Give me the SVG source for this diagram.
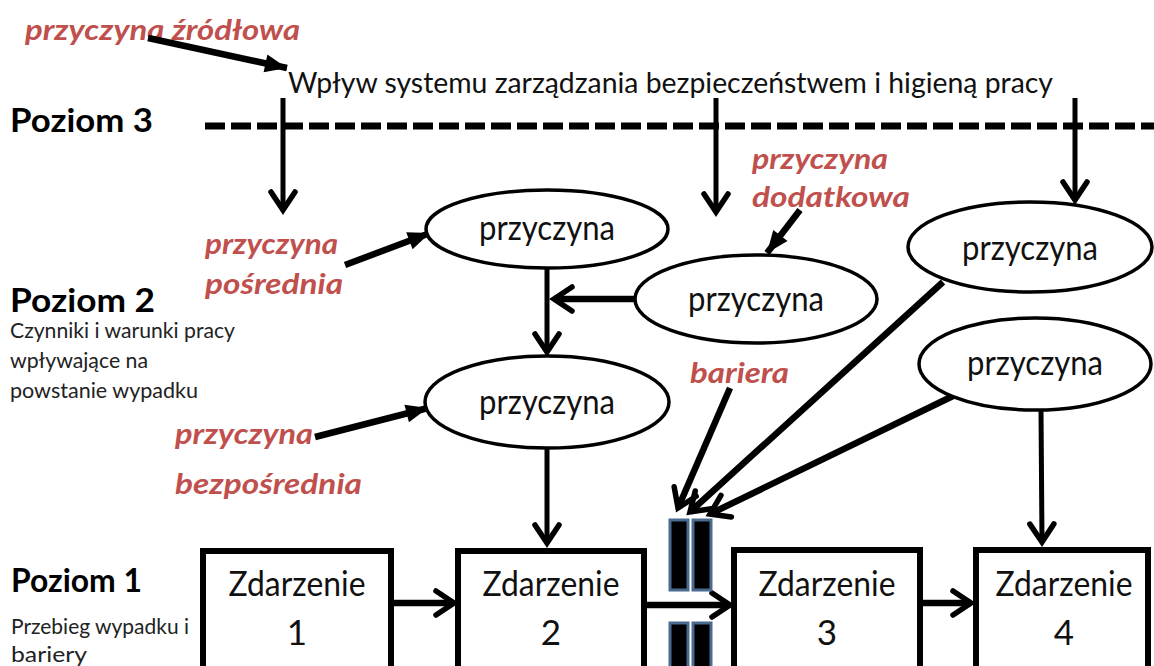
<svg xmlns="http://www.w3.org/2000/svg" width="1154" height="666" viewBox="0 0 1154 666">
  <style>
    .lvl { font-family: Lato, "Open Sans", sans-serif; font-weight: bold; font-size: 32px; fill: #000; }
    .sub { font-family: Lato, "Open Sans", sans-serif; font-size: 21px; fill: #222; }
    .red { font-family: Lato, "Open Sans", sans-serif; font-weight: bold; font-style: italic; font-size: 29px; fill: #c0504d; }
    .lbl { font-family: Lato, "Open Sans", sans-serif; font-size: 35px; fill: #111; text-anchor: middle; }
    .title { font-family: Lato, "Open Sans", sans-serif; font-size: 28px; fill: #111; }
    .ell { fill: #fff; stroke: #000; stroke-width: 3.5; }
    .box { fill: #fff; stroke: #000; stroke-width: 6; }
    .bar { fill: #000; stroke: #4a6a90; stroke-width: 3; }
    .ln { fill: none; stroke: #000; stroke-width: 5; }
    .thick { fill: none; stroke: #000; stroke-width: 6.5; }
  </style>
  <defs>
    <marker id="chev" markerUnits="userSpaceOnUse" viewBox="-26 -16 30 32" markerWidth="30" markerHeight="32" refX="0" refY="0" orient="auto" overflow="visible">
      <path d="M-18,-12 L0,0 L-18,12" fill="none" stroke="#000" stroke-width="5.5" stroke-linecap="round"/>
    </marker>
    <marker id="tri" markerUnits="userSpaceOnUse" viewBox="-24 -12 26 24" markerWidth="26" markerHeight="24" refX="0" refY="0" orient="auto" overflow="visible">
      <path d="M-22,-9 L0,0 L-22,9 Z" fill="#000"/>
    </marker>
  </defs>

  <!-- level labels -->
  <g id="level3">
    <text class="lvl" x="10" y="132" textLength="143" lengthAdjust="spacingAndGlyphs">Poziom 3</text>
  </g>
  <g id="level2">
    <text class="lvl" x="10" y="312" textLength="145" lengthAdjust="spacingAndGlyphs">Poziom 2</text>
    <text class="sub" x="10" y="338" textLength="225" lengthAdjust="spacingAndGlyphs">Czynniki i warunki pracy</text>
    <text class="sub" x="10" y="368" textLength="138" lengthAdjust="spacingAndGlyphs">wpływające na</text>
    <text class="sub" x="10" y="398" textLength="188" lengthAdjust="spacingAndGlyphs">powstanie wypadku</text>
  </g>
  <g id="level1">
    <text class="lvl" x="11" y="592" textLength="131" lengthAdjust="spacingAndGlyphs">Poziom 1</text>
    <text class="sub" x="11" y="634" textLength="178" lengthAdjust="spacingAndGlyphs">Przebieg wypadku i</text>
    <text class="sub" x="11" y="662" textLength="76" lengthAdjust="spacingAndGlyphs">bariery</text>
  </g>

  <!-- root cause -->
  <g id="source">
    <text class="red" x="25" y="40" textLength="275" lengthAdjust="spacingAndGlyphs">przyczyna źródłowa</text>
    <text class="title" x="288" y="93" textLength="765" lengthAdjust="spacingAndGlyphs">Wpływ systemu zarządzania bezpieczeństwem i higieną pracy</text>
  </g>

  <!-- level 3 boundary -->
  <line x1="205" y1="126" x2="1154" y2="126" stroke="#000" stroke-width="7" stroke-dasharray="20 6"/>

  <!-- connectors -->
  <g id="connectors">
    <line class="ln" x1="283" y1="98" x2="283" y2="210" marker-end="url(#chev)"/>
    <line class="ln" x1="716" y1="98" x2="716" y2="212" marker-end="url(#chev)"/>
    <line class="ln" x1="1075" y1="98" x2="1075" y2="200" marker-end="url(#chev)"/>

    <line class="ln" x1="547" y1="268" x2="547" y2="352" marker-end="url(#chev)"/>
    <line class="thick" x1="636" y1="299" x2="554" y2="299" marker-end="url(#chev)"/>
    <line class="ln" x1="547" y1="448" x2="547" y2="543" marker-end="url(#chev)"/>
    <line class="ln" x1="1041" y1="410" x2="1042" y2="542" marker-end="url(#chev)"/>

    <line class="thick" x1="943" y1="282" x2="690" y2="512" marker-end="url(#chev)"/>
    <line class="thick" x1="953" y1="396" x2="710" y2="514" marker-end="url(#chev)"/>
    <line class="thick" x1="730" y1="388" x2="678" y2="508" marker-end="url(#chev)"/>

    <line class="thick" x1="391" y1="603" x2="454" y2="603" marker-end="url(#chev)"/>
    <line class="thick" x1="644" y1="605" x2="730" y2="605" marker-end="url(#chev)"/>
    <line class="thick" x1="920" y1="603" x2="971" y2="603" marker-end="url(#chev)"/>

    <line class="thick" x1="148" y1="38" x2="287" y2="68" marker-end="url(#tri)"/>
    <line class="thick" x1="345" y1="265" x2="430" y2="233" marker-end="url(#tri)"/>
    <line class="thick" x1="800" y1="210" x2="767" y2="253" marker-end="url(#tri)"/>
    <line class="thick" x1="315" y1="437" x2="428" y2="408" marker-end="url(#tri)"/>
  </g>

  <!-- causes -->
  <g id="cause-upper">
    <ellipse class="ell" cx="547" cy="229" rx="121" ry="39"/>
    <text class="lbl" x="547" y="240" textLength="136" lengthAdjust="spacingAndGlyphs">przyczyna</text>
  </g>
  <g id="cause-extra">
    <ellipse class="ell" cx="756" cy="299" rx="121" ry="44"/>
    <text class="lbl" x="756" y="311" textLength="136" lengthAdjust="spacingAndGlyphs">przyczyna</text>
  </g>
  <g id="cause-direct">
    <ellipse class="ell" cx="547" cy="402" rx="122" ry="46"/>
    <text class="lbl" x="547" y="414" textLength="136" lengthAdjust="spacingAndGlyphs">przyczyna</text>
  </g>
  <g id="cause-right-1">
    <ellipse class="ell" cx="1030" cy="247" rx="122" ry="45"/>
    <text class="lbl" x="1030" y="260" textLength="136" lengthAdjust="spacingAndGlyphs">przyczyna</text>
  </g>
  <g id="cause-right-2">
    <ellipse class="ell" cx="1035" cy="364" rx="116" ry="46"/>
    <text class="lbl" x="1035" y="375" textLength="136" lengthAdjust="spacingAndGlyphs">przyczyna</text>
  </g>

  <!-- cause type labels -->
  <g id="label-indirect">
    <text class="red" x="205" y="254" textLength="133" lengthAdjust="spacingAndGlyphs">przyczyna</text>
    <text class="red" x="205" y="294" textLength="138" lengthAdjust="spacingAndGlyphs">pośrednia</text>
  </g>
  <g id="label-additional">
    <text class="red" x="752" y="169" textLength="136" lengthAdjust="spacingAndGlyphs">przyczyna</text>
    <text class="red" x="752" y="207" textLength="158" lengthAdjust="spacingAndGlyphs">dodatkowa</text>
  </g>
  <g id="label-barrier">
    <text class="red" x="690" y="383" textLength="99" lengthAdjust="spacingAndGlyphs">bariera</text>
  </g>
  <g id="label-direct">
    <text class="red" x="175" y="444" textLength="138" lengthAdjust="spacingAndGlyphs">przyczyna</text>
    <text class="red" x="175" y="494" textLength="187" lengthAdjust="spacingAndGlyphs">bezpośrednia</text>
  </g>

  <!-- barrier -->
  <g id="barrier">
    <rect class="bar" x="670" y="520" width="18" height="70"/>
    <rect class="bar" x="693" y="520" width="18" height="70"/>
    <rect class="bar" x="670" y="623" width="18" height="50"/>
    <rect class="bar" x="693" y="623" width="18" height="50"/>
  </g>

  <!-- events -->
  <g id="event1">
    <rect class="box" x="203" y="551" width="188" height="130"/>
    <text class="lbl" x="297" y="596" textLength="137" lengthAdjust="spacingAndGlyphs">Zdarzenie</text>
    <text class="lbl" x="297" y="645">1</text>
  </g>
  <g id="event2">
    <rect class="box" x="458" y="551" width="186" height="130"/>
    <text class="lbl" x="551" y="596" textLength="137" lengthAdjust="spacingAndGlyphs">Zdarzenie</text>
    <text class="lbl" x="551" y="645">2</text>
  </g>
  <g id="event3">
    <rect class="box" x="734" y="550" width="186" height="130"/>
    <text class="lbl" x="827" y="596" textLength="137" lengthAdjust="spacingAndGlyphs">Zdarzenie</text>
    <text class="lbl" x="827" y="645">3</text>
  </g>
  <g id="event4">
    <rect class="box" x="976" y="550" width="172" height="130"/>
    <text class="lbl" x="1064" y="596" textLength="137" lengthAdjust="spacingAndGlyphs">Zdarzenie</text>
    <text class="lbl" x="1064" y="645">4</text>
  </g>
</svg>
